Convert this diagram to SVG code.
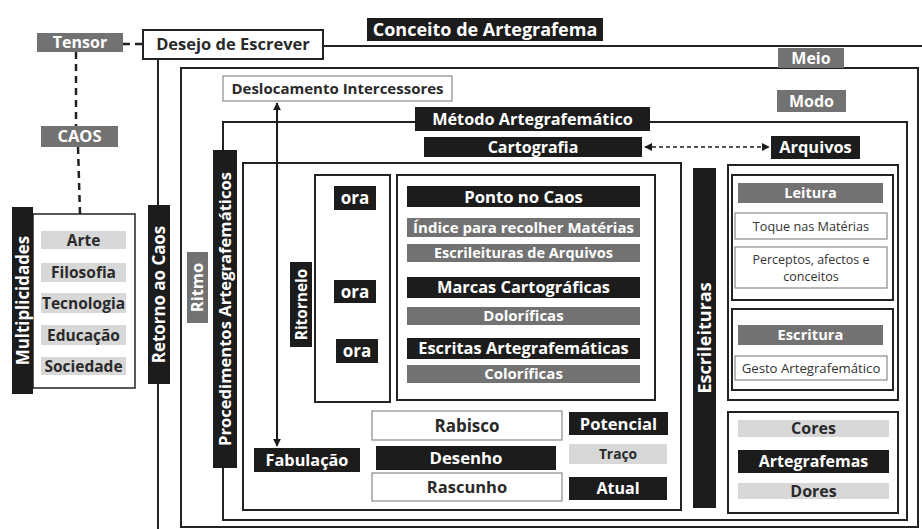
<svg xmlns="http://www.w3.org/2000/svg" width="922" height="529" viewBox="0 0 922 529">
<defs>
<style>
text{font-family:"Open Sans","Liberation Sans",Arial,sans-serif;font-weight:bold;text-anchor:middle}
.blk{fill:#1c1c1c}
.gry{fill:#727272}
.lgy{fill:#d8d8d8}
.wb{fill:#fff;stroke:#8a8a8a;stroke-width:1.2}
.fr{fill:none;stroke:#222;stroke-width:2}
.tw{fill:#fff}
.td{fill:#2a2a2a}
.tn{font-weight:normal;fill:#333}
.dash{fill:none;stroke:#222;stroke-width:2.5;stroke-dasharray:7 5}
</style>
<marker id="ah" viewBox="0 0 10 10" refX="9" refY="5" markerWidth="8" markerHeight="8" markerUnits="userSpaceOnUse" orient="auto-start-reverse">
<path d="M0,0 L10,5 L0,10 z" fill="#1c1c1c"/>
</marker>
</defs>
<rect width="922" height="529" fill="#fff"/>

<g id="frames">
<path class="fr" d="M158,59 V529 M323,46 H922"/>
<rect class="fr" x="181" y="68" width="737" height="459"/>
<rect class="fr" x="223" y="122" width="684" height="398"/>
<rect class="fr" x="243" y="163" width="438" height="347"/>
<rect class="fr" x="315" y="175" width="75" height="227"/>
<rect class="fr" x="397" y="175" width="258" height="225"/>
<rect class="fr" x="728" y="165" width="170" height="235"/>
<rect class="fr" x="732" y="175" width="161" height="125"/>
<rect class="fr" x="732" y="309" width="161" height="81"/>
<rect class="fr" x="728" y="412" width="170" height="101"/>
<rect fill="#fff" stroke="#222" stroke-width="1.5" x="33" y="214" width="102" height="174"/>
</g>

<g id="connectors">
<path class="dash" d="M123,44 H143"/>
<path class="dash" d="M76,52 V126"/>
<path class="dash" d="M78,147 L80,214"/>
<line x1="277" y1="103" x2="277" y2="446" stroke="#1c1c1c" stroke-width="2" marker-start="url(#ah)" marker-end="url(#ah)"/>
<line x1="645" y1="147" x2="769" y2="147" stroke="#1c1c1c" stroke-width="1.6" stroke-dasharray="4 3" marker-start="url(#ah)" marker-end="url(#ah)"/>
</g>

<g id="tensor"><rect class="gry" x="37" y="33" width="86" height="19"/><text class="tw" x="80" y="48.3" font-size="16">Tensor</text></g>
<g id="desejo"><rect fill="#fff" stroke="#222" stroke-width="2" x="143" y="30" width="180" height="29"/><text class="td" x="233" y="50.4" font-size="16.5">Desejo de Escrever</text></g>
<g id="conceito"><rect class="blk" x="367" y="18" width="236" height="23"/><text class="tw" x="485" y="36" font-size="18">Conceito de Artegrafema</text></g>
<g id="caos"><rect class="gry" x="41" y="126" width="77" height="21"/><text class="tw" x="79.5" y="142.4" font-size="16.5">CAOS</text></g>
<g id="meio"><rect class="gry" x="778" y="48" width="66" height="20"/><text class="tw" x="811" y="63.8" font-size="16">Meio</text></g>
<g id="modo"><rect class="gry" x="777" y="90" width="69" height="22"/><text class="tw" x="811.5" y="106.8" font-size="16">Modo</text></g>
<g id="deslocamento"><rect class="wb" x="223" y="76" width="229" height="25"/><text class="td" x="337.5" y="93.9" font-size="15">Deslocamento Intercessores</text></g>
<g id="metodo"><rect class="blk" x="415" y="107" width="235" height="24"/><text class="tw" x="532.5" y="124.9" font-size="16.3">Método  Artegrafemático</text></g>
<g id="cartografia"><rect class="blk" x="424" y="137" width="218" height="20"/><text class="tw" x="533" y="152.8" font-size="16">Cartografia</text></g>
<g id="arquivos"><rect class="blk" x="771" y="136" width="89" height="23"/><text class="tw" x="815.5" y="153.4" font-size="16.4">Arquivos</text></g>

<g id="multiplicidades"><rect class="blk" x="12" y="207" width="21" height="187"/><text class="tw" font-size="16.9" transform="translate(28.6,300.5) rotate(-90)">Multiplicidades</text></g>
<g id="arte"><rect class="lgy" x="41" y="231" width="85" height="18"/><text class="td" x="83.5" y="245.6" font-size="15.5">Arte</text></g>
<g id="filosofia"><rect class="lgy" x="41" y="263" width="85" height="19"/><text class="td" x="83.5" y="278.1" font-size="15.5">Filosofia</text></g>
<g id="tecnologia"><rect class="lgy" x="41" y="293" width="85" height="20"/><text class="td" x="83.5" y="308.6" font-size="15.5">Tecnologia</text></g>
<g id="educacao"><rect class="lgy" x="41" y="325" width="85" height="20"/><text class="td" x="83.5" y="340.6" font-size="15.5">Educação</text></g>
<g id="sociedade"><rect class="lgy" x="41" y="357" width="85" height="18"/><text class="td" x="83.5" y="371.6" font-size="15.5">Sociedade</text></g>
<g id="retorno"><rect class="blk" x="148" y="205" width="22" height="179"/><text class="tw" font-size="16.9" transform="translate(165.1,294.5) rotate(-90)">Retorno ao Caos</text></g>
<g id="ritmo"><rect class="gry" x="187" y="252" width="21" height="71"/><text class="tw" font-size="16.5" transform="translate(203.4,287.5) rotate(-90)">Ritmo</text></g>
<g id="procedimentos"><rect class="blk" x="213" y="150" width="24" height="318"/><text class="tw" font-size="16.6" transform="translate(231,309) rotate(-90)">Procedimentos  Artegrafemáticos</text></g>
<g id="ritornelo"><rect class="blk" x="290" y="262" width="22" height="85"/><text class="tw" font-size="15.4" transform="translate(306.5,304.5) rotate(-90)">Ritornelo</text></g>
<g id="ora1"><rect class="blk" x="334" y="186" width="42" height="24"/><text class="tw" x="355" y="204.1" font-size="17">ora</text></g>
<g id="ora2"><rect class="blk" x="334" y="280" width="42" height="23"/><text class="tw" x="355" y="297.6" font-size="17">ora</text></g>
<g id="ora3"><rect class="blk" x="336" y="339" width="42" height="24"/><text class="tw" x="357" y="357.1" font-size="17">ora</text></g>

<g id="ponto"><rect class="blk" x="407" y="186" width="233" height="21"/><text class="tw" x="523.5" y="202.5" font-size="16.7">Ponto no Caos</text></g>
<g id="indice"><rect class="gry" x="407" y="218" width="233" height="19" fill="#7a7a7a"/><text class="tw" x="523.5" y="232.9" font-size="15">Índice para recolher Matérias</text></g>
<g id="escrileituras-arq"><rect class="gry" x="407" y="244" width="233" height="18"/><text class="tw" x="523.5" y="258.2" font-size="14.5">Escrileituras de Arquivos</text></g>
<g id="marcas"><rect class="blk" x="407" y="277" width="233" height="21"/><text class="tw" x="523.5" y="293.4" font-size="16.4">Marcas Cartográficas</text></g>
<g id="dolorificas"><rect class="gry" x="407" y="307" width="233" height="18"/><text class="tw" x="523.5" y="321.4" font-size="15">Doloríficas</text></g>
<g id="escritas"><rect class="blk" x="407" y="338" width="233" height="21"/><text class="tw" x="523.5" y="354.4" font-size="16.4">Escritas Artegrafemáticas</text></g>
<g id="colorificas"><rect class="gry" x="407" y="365" width="233" height="18"/><text class="tw" x="523.5" y="379.4" font-size="15">Coloríficas</text></g>

<g id="fabulacao"><rect class="blk" x="254" y="448" width="106" height="24"/><text class="tw" x="307" y="465.9" font-size="16.3">Fabulação</text></g>
<g id="rabisco"><rect class="wb" x="372" y="411" width="190" height="29"/><text class="td" x="467" y="431.6" font-size="17">Rabisco</text></g>
<g id="desenho"><rect class="blk" x="376" y="446" width="180" height="24"/><text class="tw" x="466" y="464" font-size="16.8">Desenho</text></g>
<g id="rascunho"><rect class="wb" x="372" y="473" width="190" height="28"/><text class="td" x="467" y="492.9" font-size="16.5">Rascunho</text></g>
<g id="potencial"><rect class="blk" x="569" y="412" width="99" height="23"/><text class="tw" x="618.5" y="429.5" font-size="16.6">Potencial</text></g>
<g id="traco"><rect class="lgy" x="569" y="444" width="98" height="20"/><text class="td" x="618" y="459" font-size="13.8">Traço</text></g>
<g id="atual"><rect class="blk" x="569" y="477" width="98" height="23"/><text class="tw" x="618" y="494.3" font-size="16">Atual</text></g>

<g id="escrileituras"><rect class="blk" x="693" y="168" width="23" height="340"/><text class="tw" font-size="18" transform="translate(711,338) rotate(-90)">Escrileituras</text></g>
<g id="leitura"><rect class="gry" x="738" y="183" width="145" height="20" fill="#6e6e6e"/><text class="tw" x="810.5" y="198.2" font-size="14.5">Leitura</text></g>
<g id="toque"><rect class="wb" x="735" y="213" width="152" height="26"/><text class="tn" x="811" y="230.6" font-size="12.7">Toque nas Matérias</text></g>
<g id="perceptos"><rect class="wb" x="735" y="247" width="152" height="41"/><text class="tn" x="811" y="263.5" font-size="12.5">Perceptos, afectos e</text><text class="tn" x="811" y="281" font-size="12.5">conceitos</text></g>
<g id="escritura"><rect class="gry" x="738" y="325" width="145" height="20" fill="#6e6e6e"/><text class="tw" x="810.5" y="340.3" font-size="14.7">Escritura</text></g>
<g id="gesto"><rect class="wb" x="735" y="356" width="152" height="24"/><text class="tn" x="811" y="372.8" font-size="13.2">Gesto Artegrafemático</text></g>
<g id="cores"><rect class="lgy" x="738" y="420" width="151" height="17"/><text class="td" x="813.5" y="434.3" font-size="16">Cores</text></g>
<g id="artegrafemas"><rect class="blk" x="738" y="450" width="151" height="23"/><text class="tw" x="813.5" y="467.3" font-size="16">Artegrafemas</text></g>
<g id="dores"><rect class="lgy" x="738" y="483" width="151" height="16"/><text class="td" x="813.5" y="496.8" font-size="16">Dores</text></g>
</svg>
